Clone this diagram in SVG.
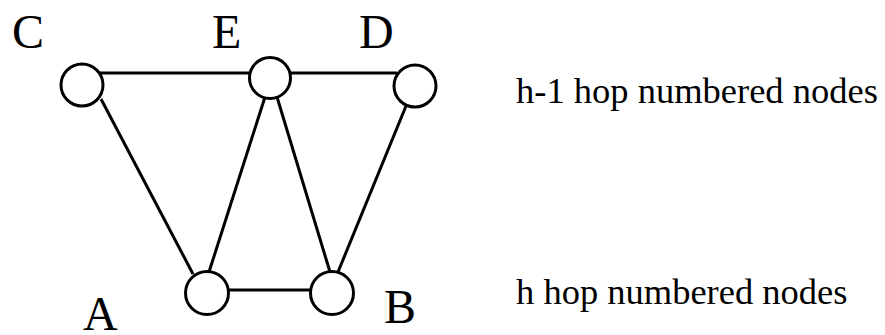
<svg xmlns="http://www.w3.org/2000/svg" width="885" height="335" viewBox="0 0 885 335">
<style>
.n{fill:#fff;stroke:#000;stroke-width:3}
.e line{stroke:#000;stroke-width:3}
.l{font-family:"Liberation Serif",serif;font-size:48px;fill:#000}
.t{font-family:"Liberation Serif",serif;font-size:36.5px;fill:#000}
</style>
<rect width="885" height="335" fill="#fff"/>
<g id="edges" class="e">
<line x1="100" y1="73" x2="252" y2="73"/>
<line x1="289" y1="73" x2="397" y2="73"/>
<line x1="228" y1="290" x2="312" y2="290"/>
<line x1="101" y1="99" x2="193" y2="274"/>
<line x1="265" y1="97" x2="209" y2="272"/>
<line x1="277" y1="97" x2="330" y2="272"/>
<line x1="406" y1="106" x2="338" y2="272"/>
</g>
<g id="C"><circle class="n" cx="82" cy="85" r="21"/><text class="l" x="12" y="48">C</text></g>
<g id="E"><circle class="n" cx="270" cy="78" r="20.5"/><text class="l" x="212" y="48">E</text></g>
<g id="D"><circle class="n" cx="415" cy="86" r="21"/><text class="l" x="359" y="48">D</text></g>
<g id="A"><circle class="n" cx="207" cy="293" r="21.5"/><text class="l" x="83" y="330">A</text></g>
<g id="B"><circle class="n" cx="332" cy="293" r="21.5"/><text class="l" x="384" y="323">B</text></g>
<text class="t" x="516" y="103">h-1 hop numbered nodes</text>
<text class="t" x="516" y="304">h hop numbered nodes</text>
</svg>
